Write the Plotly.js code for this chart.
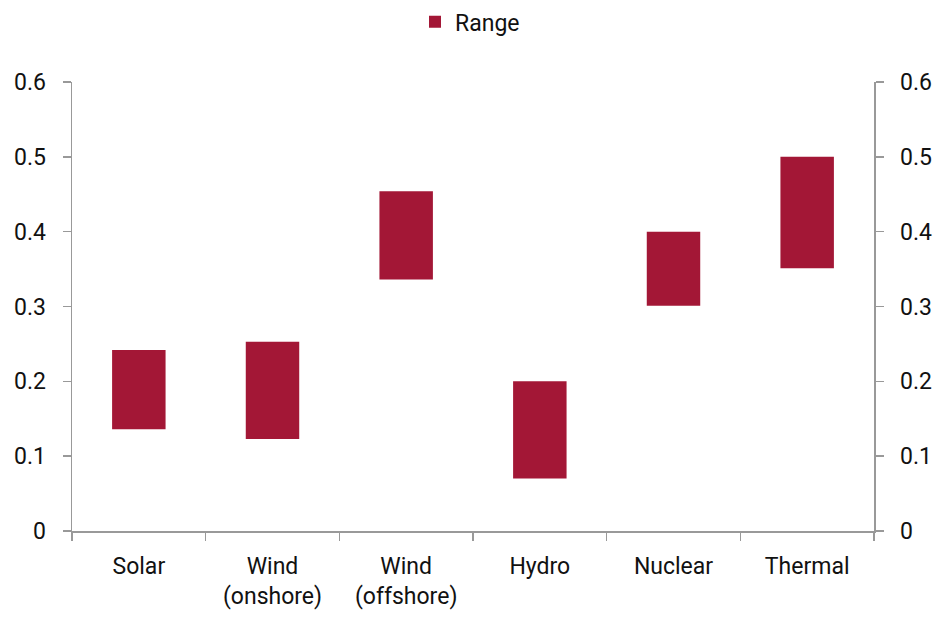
<!DOCTYPE html>
<html>
<head>
<meta charset="utf-8">
<script src="https://cdn.plot.ly/plotly-3.0.1.min.js"></script>
<style>html,body{margin:0;padding:0;background:#fff;}#chart{width:940px;height:617px;}</style>
</head>
<body>
<div id="chart"></div>
<script>
var categories = ["Solar", "Wind<br>(onshore)", "Wind<br>(offshore)", "Hydro", "Nuclear", "Thermal"];
var lowValues = [0.136, 0.123, 0.336, 0.07, 0.301, 0.351];
var highValues = [0.242, 0.253, 0.454, 0.200, 0.400, 0.500];
var seriesName = "Range";
var yTicks = [0, 0.1, 0.2, 0.3, 0.4, 0.5, 0.6];
var yTickLabels = ["0", "0.1", "0.2", "0.3", "0.4", "0.5", "0.6"];

var spans = highValues.map(function (h, i) { return h - lowValues[i]; });
var font = "Roboto, 'DejaVu Sans', sans-serif";

var traces = [
  {
    type: "bar",
    x: categories,
    y: spans,
    base: lowValues,
    name: seriesName,
    marker: { color: "#A31736", line: { width: 0 } },
    width: 0.4,
    hoverinfo: "skip"
  },
  {
    type: "scatter",
    x: categories,
    y: highValues,
    yaxis: "y2",
    mode: "none",
    showlegend: false,
    hoverinfo: "skip"
  }
];

var axisY = {
  range: [0, 0.6],
  tickvals: yTicks,
  ticktext: yTickLabels,
  ticks: "outside",
  ticklen: 8,
  tickwidth: 1.5,
  tickcolor: "#999",
  showline: true,
  linecolor: "#999",
  linewidth: 1.5,
  showgrid: false,
  zeroline: false,
  tickfont: { family: font, size: 23, color: "#111" },
  ticklabelstandoff: 12,
  automargin: false,
  fixedrange: true
};

var layout = {
  width: 940,
  height: 617,
  margin: { l: 72, r: 66, t: 82, b: 86, autoexpand: false },
  paper_bgcolor: "#fff",
  plot_bgcolor: "#fff",
  font: { family: font, size: 23, color: "#111" },
  showlegend: true,
  legend: {
    orientation: "h",
    x: 0.5,
    xanchor: "center",
    xref: "container",
    yref: "container",
    y: 0.9645,
    yanchor: "middle",
    itemwidth: 30,
    font: { family: font, size: 23, color: "#111" }
  },
  xaxis: {
    type: "category",
    ticks: "outside",
    tickson: "boundaries",
    ticklen: 8,
    tickwidth: 1.5,
    tickcolor: "#999",
    showline: true,
    linecolor: "#999",
    linewidth: 1.5,
    showgrid: false,
    zeroline: false,
    tickfont: { family: font, size: 23, color: "#111" },
    ticklabelstandoff: 14,
    tickangle: 0,
    automargin: false,
    fixedrange: true
  },
  yaxis: axisY,
  yaxis2: Object.assign({}, axisY, { overlaying: "y", side: "right", tickfont: { family: font, size: 23, color: "#111" } }),
  bargap: 0.6
};

Plotly.newPlot("chart", traces, layout, { displayModeBar: false, staticPlot: true });
</script>
</body>
</html>
